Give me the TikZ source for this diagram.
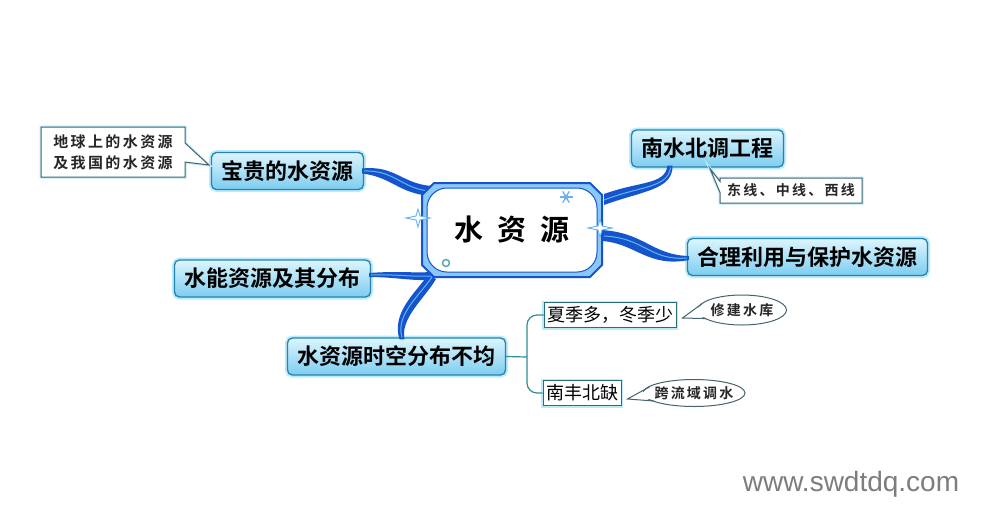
\documentclass[tikz,border=0pt]{standalone}
\usepackage{fontspec}
\usetikzlibrary{calc,shapes.geometric}
\newfontfamily\cjk{Noto Sans CJK SC}
\newfontfamily\cjkb{Noto Sans CJK SC Bold}
\newfontfamily\cjkl[LetterSpace=16]{Noto Sans CJK SC Bold}
\setsansfont{Liberation Sans}
\definecolor{boxline}{RGB}{40,130,175}
\definecolor{boxtop}{RGB}{220,245,253}
\definecolor{boxbot}{RGB}{125,205,240}
\definecolor{linkblue}{RGB}{20,85,205}
\definecolor{linklight}{RGB}{100,180,245}
\definecolor{glowc}{RGB}{185,235,250}
\definecolor{brackc}{RGB}{50,140,150}
\definecolor{notec}{RGB}{70,100,110}
\definecolor{snowc}{RGB}{110,175,240}
\definecolor{ringc}{RGB}{90,170,170}
\definecolor{wmark}{RGB}{125,125,125}
\tikzset{
  mainbox/.style={rounded corners=5pt, draw=boxline, line width=1.3pt,
    top color=boxtop, bottom color=boxbot, text=black,
    font=\cjkb\fontsize{22}{22}\selectfont, inner xsep=10pt, inner ysep=0pt,
    minimum height=37pt, preaction={draw=glowc, line width=5pt}},
  subbox/.style={draw=brackc!80!black, line width=1pt, fill=white, text=black,
    font=\cjk\fontsize{18}{18}\selectfont, inner xsep=3pt, inner ysep=0pt,
    minimum height=25pt, preaction={draw=glowc, line width=4pt}},
  notetext/.style={font=\cjkl\fontsize{15}{21}\selectfont, text=black!85, align=left, inner sep=0pt},
  smallnote/.style={notetext, font=\cjkl\fontsize{14}{14}\selectfont},
  noteline/.style={draw=notec, line width=1pt, fill=white},
  link/.style={fill=linkblue},
  linkhi/.style={draw=linklight, line width=1pt},
}
\begin{document}
\begin{tikzpicture}[x=1pt,y=-1pt]
\useasboundingbox[fill=white] (0,0) rectangle (992,528);

% ---- nodes (positions) ----
\coordinate (cc) at (512,230);
\node[mainbox] (bao) at (287.5,171) {宝贵的水资源};
\node[mainbox] (nan) at (707.5,148.5) {南水北调工程};
\node[mainbox] (heli) at (807.5,257) {合理利用与保护水资源};
\node[mainbox] (neng) at (272.5,278.5) {水能资源及其分布};
\node[mainbox] (shi) at (396.5,356.5) {水资源时空分布不均};

% ---- connectors (tapered) ----
\fill[link] ($(bao.east)+(-2,-2.5)$) .. controls (395,165) and (402,184) .. (432,186)
  -- (432,196) .. controls (399,194) and (392,177) .. ($(bao.east)+(-2,2.5)$) -- cycle;
\fill[link] ($(nan.south)+(-40,-2)$) .. controls (665,185) and (640,181) .. (604,194)
  -- (604,205) .. controls (642,191) and (673,190) .. ($(nan.south)+(-35,-2)$) -- cycle;
\fill[link] (602,230) .. controls (645,233) and (652,255) .. ($(heli.west)+(2,-1)$)
  -- ($(heli.west)+(2,3)$) .. controls (648,268) and (635,243) .. (602,241) -- cycle;
\fill[link] ($(neng.east)+(-2,-5.5)$) .. controls (395,271) and (410,273) .. (434,272)
  -- (434,280) .. controls (410,281) and (395,277) .. ($(neng.east)+(-2,-1.5)$) -- cycle;
\fill[link] ($(shi.north)+(3,2)$) .. controls (391,313) and (416,292) .. (428,275)
  -- (436,279) .. controls (425,298) and (400,318) .. ($(shi.north)+(8,2)$) -- cycle;
\draw[linkhi] (bao.east) .. controls (395,170) and (402,189) .. (430,191);
\draw[linkhi] ($(nan.south)+(-37,0)$) .. controls (668,188) and (640,186) .. (604,200);
\draw[linkhi] (604,236) .. controls (645,238) and (650,261) .. ($(heli.west)+(0,1)$);
\draw[linkhi] ($(neng.east)+(0,-3.5)$) .. controls (395,274) and (410,277) .. (432,276);
\draw[linkhi] ($(shi.north)+(5.5,0)$) .. controls (395,315) and (420,295) .. (432,277);

% ---- central node ----
\path[fill=linklight!75, draw=linkblue, line width=2pt]
  ($(cc)+(-78,-47)$) -- ($(cc)+(78,-47)$) -- ($(cc)+(90,-35)$) -- ($(cc)+(90,35)$)
  -- ($(cc)+(78,47)$) -- ($(cc)+(-78,47)$) -- ($(cc)+(-90,35)$) -- ($(cc)+(-90,-35)$) -- cycle;
\node[draw=linkblue, line width=1pt, fill=white, rounded corners=20pt,
  minimum width=170pt, minimum height=84pt, inner sep=0pt,
  font=\cjkb\fontsize{29}{29}\selectfont] (c) at (cc) {水\hspace{14pt}资\hspace{14pt}源};
% sparkles
\foreach \p in {(418,218),(600,228)}{
  \path[fill=white, draw=linklight, line width=0.9pt] \p
    +(0,-9) -- +(2,-2) -- +(12,0) -- +(2,2) -- +(0,9) -- +(-2,2) -- +(-12,0) -- +(-2,-2) -- cycle;
}
\coordinate (sf) at (566,197);
\foreach \a in {0,60,120}{
  \draw[snowc, line width=1.3pt] ($(sf)+(\a:6.5)$) -- ($(sf)+(\a+180:6.5)$);
}
\fill[snowc] (sf) circle (2.5);
\draw[ringc, line width=1.5pt] (446,263) circle (3.5);

% ---- callouts ----
\node[notetext] (n1) at (113,152) {地球上的水资源\\及我国的水资源};
\path[noteline, preaction={draw=glowc, line width=3pt}]
  ($(n1)+(-72,-25)$) -- ($(n1)+(72,-25)$) -- ($(n1)+(72,-9)$) -- ($(bao.west)+(-2,-6)$)
  -- ($(n1)+(72,10)$) -- ($(n1)+(72,25)$) -- ($(n1)+(-72,25)$) -- cycle;
\node[notetext] at (n1) {地球上的水资源\\及我国的水资源};

\node[smallnote] (n2) at (791,190.5) {东线、中线、西线};
\path[noteline, preaction={draw=glowc, line width=3pt}]
  ($(n2)+(-71,-12.5)$) -- ($(n2)+(71,-12.5)$) -- ($(n2)+(71,12.5)$) -- ($(n2)+(-71,12.5)$)
  -- ($(n2)+(-71,2)$) -- ($(nan.south)+(2.5,1)$) -- ($(n2)+(-71,-9)$) -- cycle;
\node[smallnote] at (n2) {东线、中线、西线};

% ---- sub branches ----
\node[subbox] (xia) at (610,315) {夏季多，冬季少};
\node[subbox] (nf) at (582,393) {南丰北缺};
\coordinate (br) at (527,357);
\draw[brackc, line width=1.2pt] (shi.east) -- (br);
\draw[brackc, line width=1.2pt, rounded corners=10pt] (xia.west) -| (br) |- (nf.west);

\node[ellipse, noteline, minimum width=89pt, minimum height=30pt, inner sep=0pt] (e1) at (742,310) {};
\fill[white] ($(e1.center)+(-40,-5)$) -- ($(xia.east)+(6,3)$) -- ($(e1.center)+(-36,7)$) -- cycle;
\draw[notec, line width=1pt] ($(e1.center)+(-40,-6.3)$) -- ($(xia.east)+(6,3)$) -- ($(e1.center)+(-36,8.6)$);
\node[smallnote] at (e1) {修建水库};

\node[ellipse, noteline, minimum width=102pt, minimum height=27pt, inner sep=0pt] (e2) at (694,393) {};
\fill[white] ($(e2.center)+(-44,-4)$) -- ($(nf.east)+(6,6)$) -- ($(e2.center)+(-40,6)$) -- cycle;
\draw[notec, line width=1pt] ($(e2.center)+(-44,-6.4)$) -- ($(nf.east)+(6,6)$) -- ($(e2.center)+(-40,8)$);
\node[smallnote] at (e2) {跨流域调水};

% ---- watermark ----
\node[font=\sffamily\fontsize{28}{28}\selectfont, text=wmark, inner sep=0pt] (wm) at (851,484) {www.swdtdq.com};
\end{tikzpicture}
\end{document}
